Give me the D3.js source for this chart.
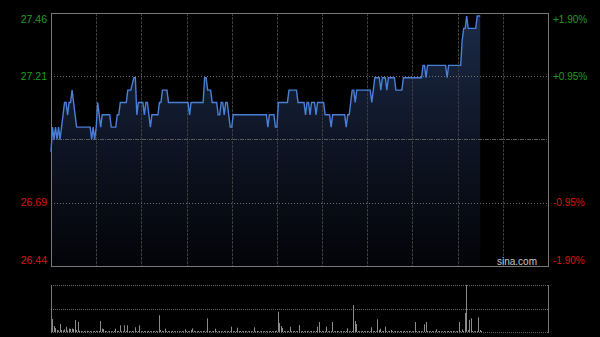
<!DOCTYPE html>
<html><head><meta charset="utf-8">
<script src="https://cdn.jsdelivr.net/npm/d3@7"></script>
<style>html,body{margin:0;padding:0;background:#000;}svg{display:block;}</style>
</head><body>
<svg id="c" width="600" height="337"></svg>
<script>
const prevClose = 26.95;
const leftTicks = ["27.46", "27.21", "26.69", "26.44"];
const rightTicks = ["+1.90%", "+0.95%", "-0.95%", "-1.90%"];
const tickPct = [0.019, 0.0095, -0.0095, -0.019];
const totalMinutes = 330;
// price key points: minute index, price
const priceMinutes = [0,1,2,3,4,5,6,7,8,9,10,11,12,13,14,15,16,17,26,27,28,29,30,31,32,33,34,39,40,43,44,45,46,47,50,51,53,55,56,57,58,61,62,63,64,65,66,67,70,71,72,73,74,77,78,90,91,92,93,101,102,103,104,106,107,110,111,112,113,114,115,116,117,118,119,120,121,142,143,144,145,148,149,150,151,157,158,163,164,168,169,170,171,172,173,175,176,177,181,182,184,185,186,187,194,195,196,197,198,199,200,201,202,203,204,212,213,214,215,217,218,219,220,222,223,224,228,229,233,234,246,247,248,249,250,262,263,264,265,272,273,274,275,276,277,281,282,283,285];
const prices = [26.90,27.00,26.95,27.00,26.95,27.00,26.95,27.00,27.05,27.10,27.10,27.05,27.10,27.10,27.15,27.10,27.05,27.00,27.00,26.95,27.00,26.95,27.00,27.10,27.05,27.00,27.05,27.05,27.00,27.00,27.05,27.05,27.10,27.10,27.10,27.15,27.15,27.20,27.20,27.05,27.10,27.10,27.05,27.10,27.10,27.05,27.00,27.05,27.05,27.05,27.10,27.10,27.15,27.15,27.10,27.10,27.10,27.05,27.10,27.10,27.20,27.20,27.15,27.15,27.10,27.10,27.05,27.05,27.10,27.10,27.05,27.10,27.10,27.05,27.00,27.00,27.05,27.05,27.05,27.00,27.05,27.05,27.00,27.00,27.10,27.10,27.15,27.15,27.10,27.10,27.05,27.10,27.10,27.05,27.10,27.10,27.05,27.10,27.10,27.05,27.05,27.05,27.00,27.05,27.05,27.05,27.00,27.05,27.05,27.10,27.15,27.15,27.10,27.15,27.15,27.15,27.10,27.15,27.20,27.20,27.20,27.15,27.20,27.20,27.15,27.20,27.20,27.15,27.15,27.20,27.20,27.25,27.25,27.20,27.25,27.25,27.20,27.25,27.25,27.25,27.35,27.40,27.40,27.45,27.40,27.40,27.40,27.45,27.45];
const volumes = [
130,60,40,20,15,80,20,15,25,53,15,35,30,35,30,120,20,100,12,10,
8,10,8,12,8,10,8,8,10,12,8,10,110,33,30,10,8,8,10,8,
8,10,33,8,10,67,8,8,67,10,67,8,8,10,8,47,8,10,67,8,
8,10,8,8,10,8,8,10,8,12,8,167,20,10,8,33,8,10,8,8,
10,8,8,10,8,8,10,8,27,8,10,8,20,37,10,8,8,10,8,8,
10,8,8,137,10,8,8,10,33,8,8,10,8,8,10,8,8,10,8,53,
8,10,8,43,8,10,8,8,10,8,8,10,8,8,47,8,10,8,8,10,
8,8,10,8,8,10,8,8,10,12,203,90,60,40,10,8,8,10,53,8,
8,10,8,8,70,8,10,8,8,10,8,8,10,8,8,10,53,100,8,10,
8,8,53,8,10,8,100,8,8,10,8,8,10,8,8,10,37,8,8,10,
270,110,80,10,8,8,10,8,8,10,8,8,47,8,10,8,127,20,33,8,
10,53,8,8,10,20,8,8,10,8,8,10,8,8,10,8,8,10,8,8,
10,100,8,8,10,8,8,77,100,10,8,8,10,8,8,27,8,10,8,8,
10,8,8,10,8,8,10,8,8,10,100,8,27,10,190,470,20,120,137,10,
8,10,8,147,20,10];

const svg = d3.select("#c");
const L = 51, R = 548, T = 13, B = 266;
const VT = 285, VB = 332;
const x = d3.scaleLinear().domain([0, totalMinutes]).range([L, R]);
const y = d3.scaleLinear().domain([prevClose * (1 - 0.019), prevClose * (1 + 0.019)]).range([B, T]);
const yv = d3.scaleLinear().domain([0, d3.max(volumes)]).range([VB, VT]);

const defs = svg.append("defs");
const g = defs.append("linearGradient").attr("id", "fill").attr("gradientUnits", "userSpaceOnUse")
  .attr("x1", 0).attr("y1", T).attr("x2", 0).attr("y2", B);
g.append("stop").attr("offset", "0").attr("stop-color", "#1c2b48");
g.append("stop").attr("offset", "0.5").attr("stop-color", "#0e1525");
g.append("stop").attr("offset", "1").attr("stop-color", "#030408");

const pts = priceMinutes.map((m, i) => [m, prices[i]]);

// area
svg.append("path").datum(pts)
  .attr("d", d3.area().x(d => x(d[0])).y0(B).y1(d => y(d[1])))
  .attr("fill", "url(#fill)");

// vertical grid
const vGrid = d3.range(30, totalMinutes, 30);
svg.append("g").selectAll("line").data(vGrid).join("line")
  .attr("x1", d => Math.round(x(d)) + 0.5).attr("x2", d => Math.round(x(d)) + 0.5)
  .attr("y1", T).attr("y2", B)
  .attr("stroke", "#3c3c3c").attr("stroke-width", 1).attr("stroke-dasharray", "3,1");

// horizontal grids
[0.0095, -0.0095].forEach(p => {
  const yy = Math.round(y(prevClose * (1 + p))) + 0.5;
  svg.append("line").attr("x1", L).attr("x2", R).attr("y1", yy).attr("y2", yy)
    .attr("stroke", "#707070").attr("stroke-dasharray", "1,2");
});
const ym = Math.round(y(prevClose)) + 0.5;
svg.append("line").attr("x1", L).attr("x2", R).attr("y1", ym).attr("y2", ym)
  .attr("stroke", "#5a5a5a").attr("stroke-dasharray", "4,1,1,1");

// price line
svg.append("path").datum(pts)
  .attr("d", d3.line().x(d => x(d[0])).y(d => y(d[1])))
  .attr("fill", "none").attr("stroke", "#4a7fd6").attr("stroke-width", 1.4);

// border
svg.append("rect").attr("x", L + 0.5).attr("y", T + 0.5).attr("width", R - L).attr("height", B - T)
  .attr("fill", "none").attr("stroke", "#777");

// labels
const lblY = [T + 6, null, null, B - 6];
leftTicks.forEach((t, i) => {
  const yy = lblY[i] !== null ? lblY[i] : y(prevClose * (1 + tickPct[i]));
  const col = tickPct[i] > 0 ? "#1e9e1e" : "#d8150f";
  svg.append("text").attr("x", 47).attr("y", yy).attr("dy", "0.35em")
    .attr("text-anchor", "end").attr("font-family", "Liberation Sans, Arial, sans-serif")
    .attr("font-size", 10.5).attr("fill", col).text(t);
  svg.append("text").attr("x", 553).attr("y", yy).attr("dy", "0.35em")
    .attr("text-anchor", "start").attr("font-family", "Liberation Sans, Arial, sans-serif")
    .attr("font-size", 10).attr("fill", col).text(rightTicks[i]);
});
svg.append("text").attr("x", 537).attr("y", 261).attr("dy", "0.35em").attr("text-anchor", "end")
  .attr("font-family", "Liberation Sans, Arial, sans-serif").attr("font-size", 10)
  .attr("fill", "#c8c8c8").text("sina.com");

// volume frame
[VT, (VT + VB) / 2, VB].forEach(v => {
  const yy = Math.round(v) + 0.5;
  svg.append("line").attr("x1", L).attr("x2", R).attr("y1", yy).attr("y2", yy)
    .attr("stroke", "#666").attr("stroke-dasharray", "1,1");
});
[L, R].forEach(xx => {
  svg.append("line").attr("x1", xx + 0.5).attr("x2", xx + 0.5).attr("y1", VT).attr("y2", VB + 1)
    .attr("stroke", "#777");
});
svg.append("g").selectAll("line").data(volumes).join("line")
  .attr("x1", (d, i) => Math.round(x(i)) + 1.5).attr("x2", (d, i) => Math.round(x(i)) + 1.5)
  .attr("y1", VB).attr("y2", d => yv(d))
  .attr("stroke", "#8a8a8a").attr("stroke-width", 1);
</script>
</body></html>
